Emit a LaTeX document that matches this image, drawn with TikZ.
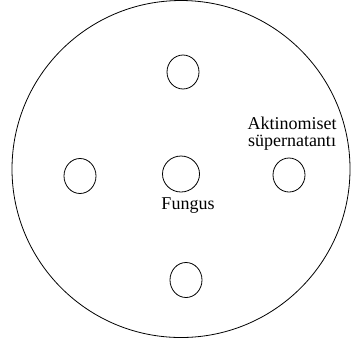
\documentclass[tikz,border=0pt]{standalone}
\usepackage{fontspec}
\setmainfont{Liberation Serif}
\begin{document}
\begin{tikzpicture}[x=0.75pt,y=-0.75pt,
  plate/.style={draw=black,line width=0.6pt},
  well/.style={draw=black,line width=0.6pt},
  lbl/.style={font=\fontsize{13.5}{12.75}\selectfont,align=center,inner sep=0pt}]
\useasboundingbox (0,0) rectangle (352,344);
\draw[plate] (181,169) ellipse [x radius=169, y radius=168.5];
\draw[well] (183,72) ellipse [x radius=16, y radius=17];
\draw[well] (80,176) ellipse [x radius=16, y radius=17.5];
\draw[well] (181,174) ellipse [x radius=18.5, y radius=18];
\draw[well] (289,175) ellipse [x radius=16, y radius=17];
\draw[well] (186,280) ellipse [x radius=16, y radius=17.5];
\node[lbl] (fungus) at (188,206) {Fungus};
\node[lbl] (akt) at (292,134) {Aktinomiset\\süpernatantı};
\end{tikzpicture}
\end{document}
